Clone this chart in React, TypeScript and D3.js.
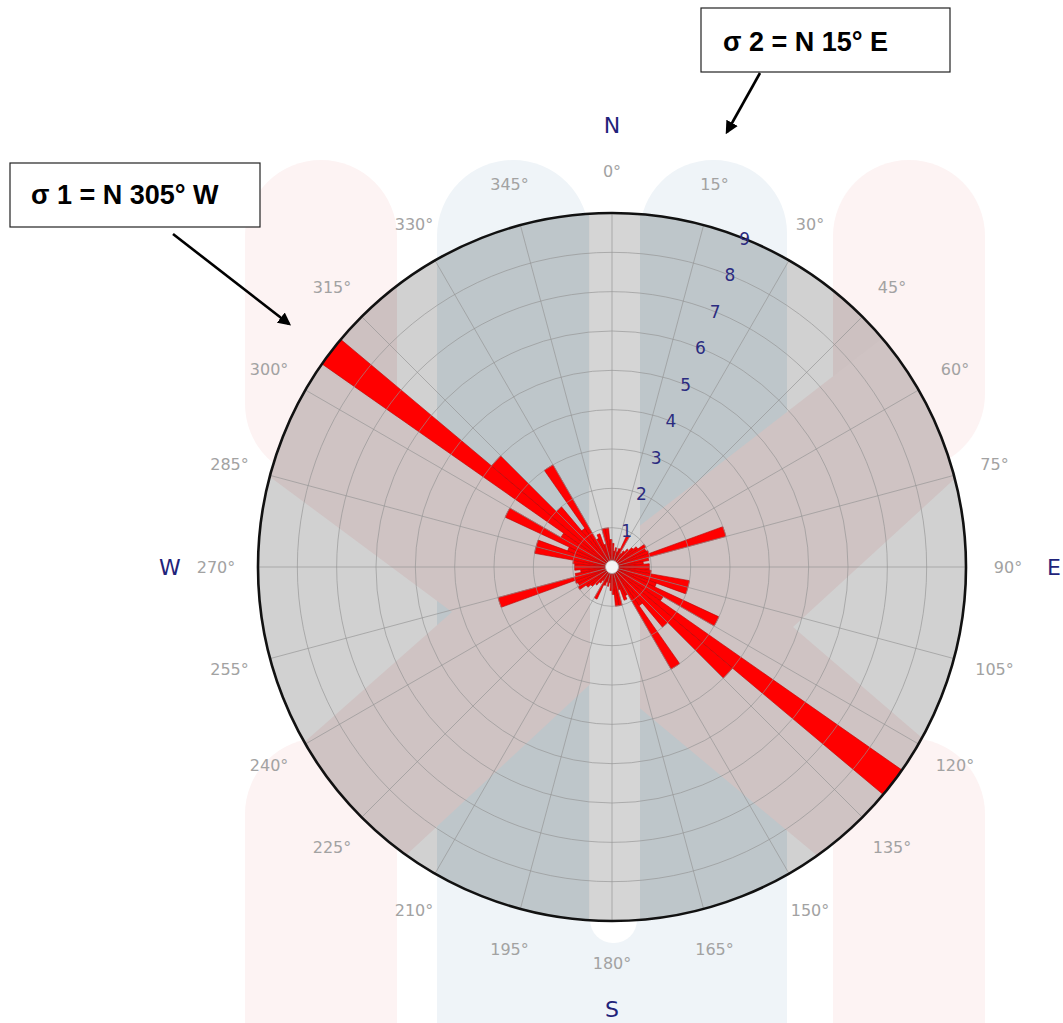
import React from "react";
import * as d3 from "d3";

const WIDTH = 1063;
const HEIGHT = 1023;

// Rose diagram: 5° bins from 0° to 180°, mirrored onto 180°–360° (bidirectional data)
const BIN_SIZE = 5;
const binStart = [0, 5, 10, 15, 20, 25, 30, 35, 40, 45, 50, 55, 60, 65, 70, 75, 80, 85,
  90, 95, 100, 105, 110, 115, 120, 125, 130, 135, 140, 145, 150, 155, 160, 165, 170, 175];
const binCount = [0.6, 0.4, 0.5, 0.4, 0.5, 0.9, 0.4, 0.5, 0.6, 0.7, 0.8, 1.0, 0.95, 1.0, 3.0, 0.95, 0.8, 0.95,
  0.95, 1.0, 2.0, 2.0, 1.2, 3.0, 1.5, 9.0, 4.0, 2.0, 1.2, 3.0, 0.8, 0.9, 0.6, 1.0, 1.0, 0.7];

const ringTicks = [1, 2, 3, 4, 5, 6, 7, 8, 9];
const RING_LABEL_AZ = 22;
const degreeTicks = [0, 15, 30, 45, 60, 75, 90, 105, 120, 135, 150, 165, 180, 195, 210, 225, 240, 255, 270, 285, 300, 315, 330, 345];
const cardinalLabels = ["N", "E", "S", "W"];
const cardinalAz = [0, 90, 180, 270];

const annotationText = ["σ 1 = N 305° W", "σ 2 = N 15° E"];

// background decoration (offsets relative to the rose centre)
const pinkX = [[-160, 45], [-362, -105], [-362, -248], [-10, -12], [308, -258], [373, -116], [181, 60],
  [373, 225], [268, 341], [-12, 108], [-252, 331], [-362, 223]];

export default function App() {
  const cx = 612, cy = 567, R = 354;
  const r = d3.scaleLinear().domain([0, 9]).range([0, R]);
  const rad = (deg: number) => (deg * Math.PI) / 180;
  const pt = (az: number, rr: number) => [cx + rr * Math.sin(rad(az)), cy - rr * Math.cos(rad(az))];

  const bars = binStart.flatMap((a, i) => [0, 180].map((off) => ({ a0: a + off, a1: a + off + BIN_SIZE, v: binCount[i] })));
  const arc = d3.arc<any>()
    .innerRadius(0)
    .outerRadius((d: any) => r(d.v))
    .startAngle((d: any) => rad(d.a0))
    .endAngle((d: any) => rad(d.a1));

  const spokes = d3.range(0, 360, 15);
  const xPath = (d3.line()(pinkX.map(([dx, dy]) => [cx + dx, cy + dy]) as any) || "") + "Z";

  const gridStroke = "#949494";
  const pale = "#fdf3f3";
  const paleBlue = "#eff4f8";

  return (
    <svg width={WIDTH} height={HEIGHT} style={{ position: "absolute", left: 0, top: 0, background: "#fff" }}
      fontFamily="'DejaVu Sans', Verdana, sans-serif">
      <defs>
        <clipPath id="roseClip">
          <circle cx={cx} cy={cy} r={R} />
        </clipPath>
        <marker id="ah" viewBox="0 0 10 10" refX="8" refY="5" markerWidth="5" markerHeight="5" orient="auto">
          <path d="M0,0 L10,5 L0,10 z" fill="#000" />
        </marker>
      </defs>

      {/* outside pale capsules */}
      <g>
        <rect x={cx - 367} y={160} width={152} height={320} rx={76} fill={pale} />
        <rect x={cx + 221} y={160} width={152} height={310} rx={76} fill={pale} />
        <rect x={cx - 367} y={738} width={152} height={400} rx={76} fill={pale} />
        <rect x={cx + 221} y={738} width={152} height={400} rx={76} fill={pale} />
        <rect x={cx - 175} y={160} width={152} height={960} rx={76} fill={paleBlue} />
        <rect x={cx + 28} y={160} width={147} height={960} rx={73} fill={paleBlue} />
        <rect x={cx - 100} y={860} width={200} height={200} fill={paleBlue} />
        <rect x={cx - 22} y={700} width={47} height={243} rx={23} fill="#ffffff" />
      </g>

      {/* inside circle shading */}
      <g clipPath="url(#roseClip)">
        <rect x={0} y={0} width={WIDTH} height={HEIGHT} fill="#d1d1d1" />
        <rect x={cx - 175} y={0} width={152} height={HEIGHT} fill="#bec6ca" />
        <rect x={cx + 28} y={0} width={147} height={HEIGHT} fill="#bec6ca" />
        <rect x={cx - 367} y={150} width={152} height={330} rx={40} fill="#cdc1c1" />
        <rect x={cx + 221} y={150} width={152} height={320} rx={40} fill="#cdc1c1" />
        <path d={xPath} fill="#cfc3c3" />
        <rect x={cx - 22} y={0} width={50} height={HEIGHT} fill="#d5d5d5" />
      </g>

      {/* bars */}
      <g transform={`translate(${cx},${cy})`}>
        {bars.map((b, i) => (
          <path key={i} d={arc(b) || ""} fill="#ff0000" stroke="#b80000" strokeWidth={0.6} />
        ))}
      </g>

      {/* grid on top */}
      <g fill="none" stroke={gridStroke} strokeOpacity={0.65} strokeWidth={1}>
        {ringTicks.slice(0, -1).map((k) => (
          <circle key={k} cx={cx} cy={cy} r={r(k)} />
        ))}
        {spokes.map((a) => {
          const [x, y] = pt(a, R);
          return <line key={a} x1={cx} y1={cy} x2={x} y2={y} />;
        })}
      </g>

      <circle cx={cx} cy={cy} r={6.5} fill="#f4f4f4" stroke="#aaaaaa" strokeWidth={0.8} />
      <circle cx={cx} cy={cy} r={R} fill="none" stroke="#111" strokeWidth={2.6} />

      {/* ring value labels */}
      {ringTicks.map((k) => {
        const [x, y] = pt(RING_LABEL_AZ, r(k));
        return (
          <text key={k} x={x} y={y} dy="0.36em" textAnchor="middle" fontSize={17} fill="#2b2b80">{k}</text>
        );
      })}

      {/* degree labels */}
      {degreeTicks.map((d) => {
        const [x, y] = pt(d, 396);
        return (
          <text key={d} x={x} y={y} dy="0.36em" textAnchor="middle" fontSize={16} fill="#a2a2a2">{`${d}°`}</text>
        );
      })}

      {/* cardinal letters */}
      {cardinalLabels.map((c, i) => {
        const [x, y] = pt(cardinalAz[i], 442);
        return (
          <text key={c} x={x} y={y} dy="0.36em" textAnchor="middle" fontSize={22} fill="#1f237a">{c}</text>
        );
      })}

      {/* annotations */}
      <g fontFamily="'Liberation Sans', Arial, sans-serif" fontWeight="bold" fontSize={27} fill="#000">
        <rect x={10} y={163} width={250} height={64} fill="#fff" stroke="#222" strokeWidth={1.2} />
        <text x={31} y={204}>{annotationText[0]}</text>
        <rect x={701} y={8} width={249} height={64} fill="#fff" stroke="#222" strokeWidth={1.2} />
        <text x={723} y={51}>{annotationText[1]}</text>
        <line x1={173} y1={234} x2={289} y2={324} stroke="#000" strokeWidth={2.6} markerEnd="url(#ah)" />
        <line x1={760} y1={73} x2={727} y2={132} stroke="#000" strokeWidth={2.6} markerEnd="url(#ah)" />
      </g>
    </svg>
  );
}
